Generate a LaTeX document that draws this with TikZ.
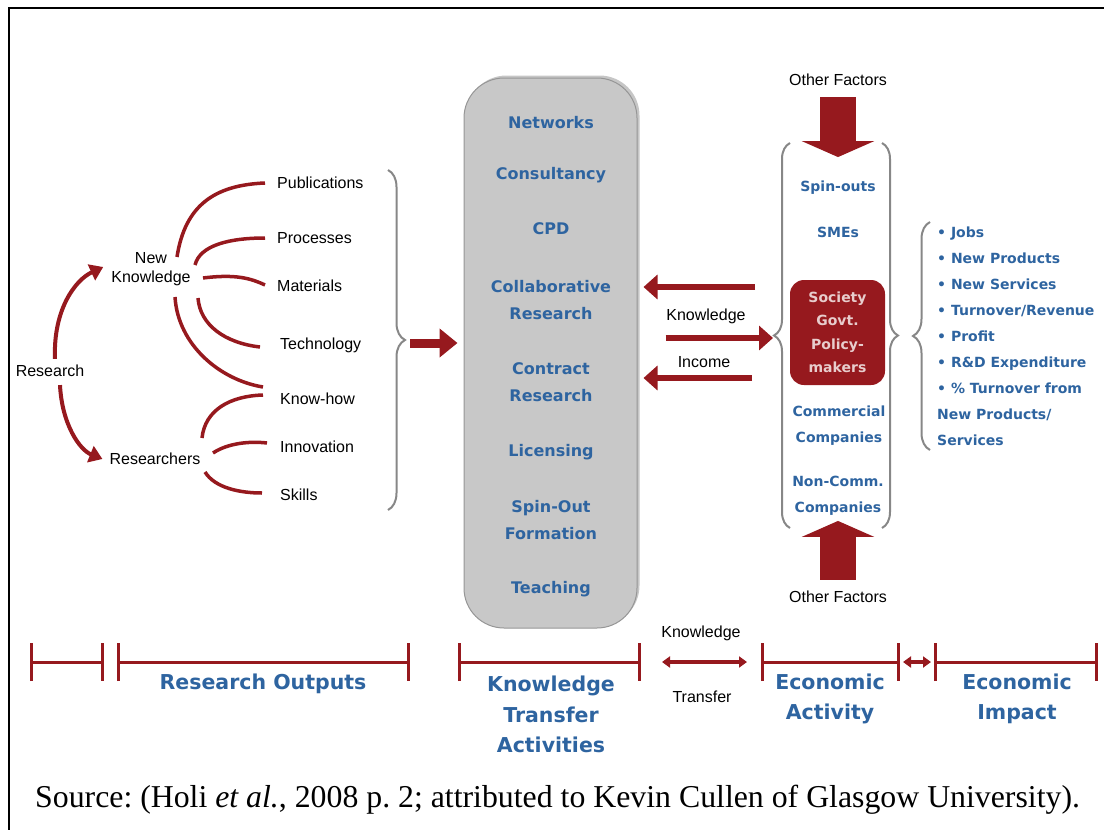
\documentclass[tikz,border=0pt]{standalone}
\usepackage{fontspec}
\setmainfont{Liberation Serif}
\newfontfamily\labfont{Liberation Sans}
\newfontfamily\blfont{DejaVu Sans}
\usetikzlibrary{arrows.meta,decorations.pathreplacing,shadows,calc}
\definecolor{kred}{RGB}{150,25,30}
\definecolor{kblue}{RGB}{46,100,160}
\definecolor{kgray}{RGB}{200,200,200}
\definecolor{kgrayd}{RGB}{150,150,150}
\definecolor{bgray}{RGB}{135,135,135}
\definecolor{ptext}{RGB}{232,205,205}
\frenchspacing
\begin{document}
\begin{tikzpicture}[x=1pt,y=-1pt,
  lbl/.style={font=\labfont\fontsize{16}{19}\selectfont,inner sep=0pt,align=center},
  act/.style={font=\blfont\bfseries\fontsize{16}{27}\selectfont,text=kblue,inner sep=0pt,align=center},
  eco/.style={font=\blfont\bfseries\fontsize{14}{26}\selectfont,text=kblue,inner sep=0pt,align=center},
  imp/.style={font=\blfont\bfseries\fontsize{14}{26}\selectfont,text=kblue,inner sep=0pt,align=left},
  big/.style={font=\blfont\bfseries\fontsize{20.5}{30.5}\selectfont,text=kblue,inner sep=0pt,align=center},
  branch/.style={draw=kred,line width=3.5pt},
  curvearrow/.style={draw=kred,line width=4pt,-{Triangle[length=13pt,width=17pt]}},
  blockarrow/.style={draw=kred,line width=5.5pt,-{Triangle[length=14pt,width=24pt]}},
  fatarrow/.style={draw=kred,line width=9pt,-{Triangle[length=18pt,width=28pt]}},
  vblock/.style={draw=kred,line width=36pt,-{Triangle[length=16pt,width=72pt]}},
  gbrace/.style={draw=bgray,line width=2pt,decorate,decoration={brace,amplitude=#1}},
  scalebar/.style={draw=kred,line width=3pt,{Bar[width=38pt]}-{Bar[width=38pt]}},
  dblarrow/.style={draw=kred,line width=3.5pt,{Triangle[length=8pt,width=11pt]}-{Triangle[length=8pt,width=11pt]}}
]
\useasboundingbox (0,0) rectangle (1104,830);
% frame
\draw[line width=2.5pt] (9,830) -- (9,8) -- (1104,8);

% ---------- research outputs ----------
\node[lbl] (res) at (50,371) {Research};
\node[lbl] (nk) at (151,269) {New\\Knowledge};
\node[lbl] (rs) at (155,459) {Researchers};
\node[lbl,anchor=west] (pub) at (277,183) {Publications};
\node[lbl,anchor=west] (proc) at (277,238) {Processes};
\node[lbl,anchor=west] (mat) at (277,286) {Materials};
\node[lbl,anchor=west] (tech) at (280,345) {Technology};
\node[lbl,anchor=west] (kh) at (280,399) {Know-how};
\node[lbl,anchor=west] (inn) at (280,447) {Innovation};
\node[lbl,anchor=west] (skl) at (280,495) {Skills};

\draw[curvearrow] ($(res.north)+(5,-6)$) .. controls (53,310) and (75,280) .. ($(nk.west)+(-8,-2)$);
\draw[curvearrow] ($(res.south)+(10,8)$) .. controls (62,425) and (80,450) .. ($(rs.west)+(-7,0)$);

\draw[branch] ($(nk.center)+(26,-12)$) .. controls (185,205) and (215,185) .. ($(pub.west)+(-12,0)$);
\draw[branch] ($(nk.center)+(44,-4)$) .. controls (200,245) and (230,238) .. ($(proc.west)+(-12,0)$);
\draw[branch] ($(nk.center)+(52,9)$) .. controls (235,274) and (250,278) .. ($(mat.west)+(-12,-1)$);
\draw[branch] ($(nk.center)+(47,29)$) .. controls (200,325) and (225,343) .. ($(tech.west)+(-20,2)$);
\draw[branch] ($(nk.center)+(24,28)$) .. controls (178,345) and (220,380) .. ($(kh.west)+(-17,-12)$);
\draw[branch] ($(rs.center)+(47,-21)$) .. controls (205,410) and (230,396) .. ($(kh.west)+(-17,-4)$);
\draw[branch] ($(rs.center)+(58,-6)$) .. controls (228,443) and (250,441) .. ($(inn.west)+(-13,-4)$);
\draw[branch] ($(rs.center)+(50,13)$) .. controls (215,488) and (240,493) .. ($(skl.west)+(-18,-2)$);

\draw[gbrace=17pt] (388,170) -- (388,510);
\coordinate (ba) at (410,343);

% ---------- knowledge transfer activities ----------
\node[draw=kgrayd,line width=1pt,fill=kgray,rounded corners=40pt,minimum width=173pt,minimum height=550pt,
      drop shadow={shadow xshift=2.5pt,shadow yshift=2.5pt,opacity=0.45}] (kta) at (550.5,353) {};
\node[act] (net) at (551,123) {Networks};
\node[act] (con) at (551,175) {Consultancy};
\node[act] (cpd) at (551,229) {CPD};
\node[act] (col) at (551,300.5) {Collaborative\\Research};
\node[act] (ctr) at (551,382) {Contract\\Research};
\node[act] (lic) at (551,452) {Licensing};
\node[act] (spo) at (551,520) {Spin-Out\\Formation};
\node[act] (tea) at (551,589) {Teaching};

\draw[fatarrow,shorten >=6pt] (ba) -- (ba -| kta.west);

% ---------- economic activity ----------
\node[lbl] (of1) at (838,80) {Other Factors};
\node[lbl] (of2) at (838,597) {Other Factors};
\node[eco] (spin) at (838,188) {Spin-outs};
\node[eco] (sme) at (838,232) {SMEs};
\node[fill=kred,rounded corners=14pt,minimum width=95pt,minimum height=105pt,inner sep=0pt,align=center,
      font=\blfont\bfseries\fontsize{14}{23.5}\selectfont,text=ptext] (soc) at (837.5,332.5) {Society\\Govt.\\Policy-\\makers};
\node[eco] (comm) at (839,426) {Commercial\\Companies};
\node[eco] (ncomm) at (838,495.5) {Non-Comm.\\Companies};

\draw[vblock] ($(of1.south)+(0,11)$) -- ($(of1.south)+(0,71)$);
\draw[vblock] ($(of2.north)+(0,-11)$) -- ($(of2.north)+(0,-70)$);

\draw[gbrace=16pt] (790,528) -- (790,143);
\draw[gbrace=16pt] (882,143) -- (882,528);
\coordinate (colL) at (773,338);

\coordinate (k1) at (755,287);
\coordinate (k3) at (752,378);
\draw[blockarrow,shorten >=6pt] (k1) -- (k1 -| kta.east);
\draw[blockarrow] ($(colL -| kta.east)+(28,0)$) -- (colL);
\draw[blockarrow,shorten >=6pt] (k3) -- (k3 -| kta.east);
\node[lbl] (kl) at (706,316) {Knowledge};
\node[lbl] (il) at (704,362) {Income};

% ---------- economic impact ----------
\draw[gbrace=17pt] (930,450) -- (930,222);
\node[imp,anchor=north west] (list) at (937,227) {• Jobs\\• New Products\\• New Services\\• Turnover/Revenue\\• Profit\\• R\&D Expenditure\\• \% Turnover from\\New Products/\\Services};

% ---------- bottom scale ----------
\draw[scalebar] (30,662) -- (104,662);
\draw[scalebar] (117,662) -- (410,662);
\draw[scalebar] (458,662) -- (641,662);
\draw[dblarrow] (662,662) -- (747,662);
\draw[scalebar] (761,662) -- (900,662);
\draw[dblarrow] (903,662) -- (931,662);
\draw[scalebar] (934,662) -- (1098,662);

\node[big] (ro) at (263,684) {Research Outputs};
\node[big] (kt) at (551,714.5) {Knowledge\\Transfer\\Activities};
\node[lbl] (ktk) at (701,633) {Knowledge};
\node[lbl] (ktt) at (702,697) {Transfer};
\node[big] (ea) at (830,699) {Economic\\Activity};
\node[big] (ei) at (1017,699) {Economic\\Impact};

\node[anchor=west,font=\fontsize{31.8}{36}\selectfont,inner sep=0pt] (src) at (35,800)
  {Source: (Holi \textit{et al.}, 2008 p. 2; attributed to Kevin Cullen of Glasgow University).};
\end{tikzpicture}
\end{document}
